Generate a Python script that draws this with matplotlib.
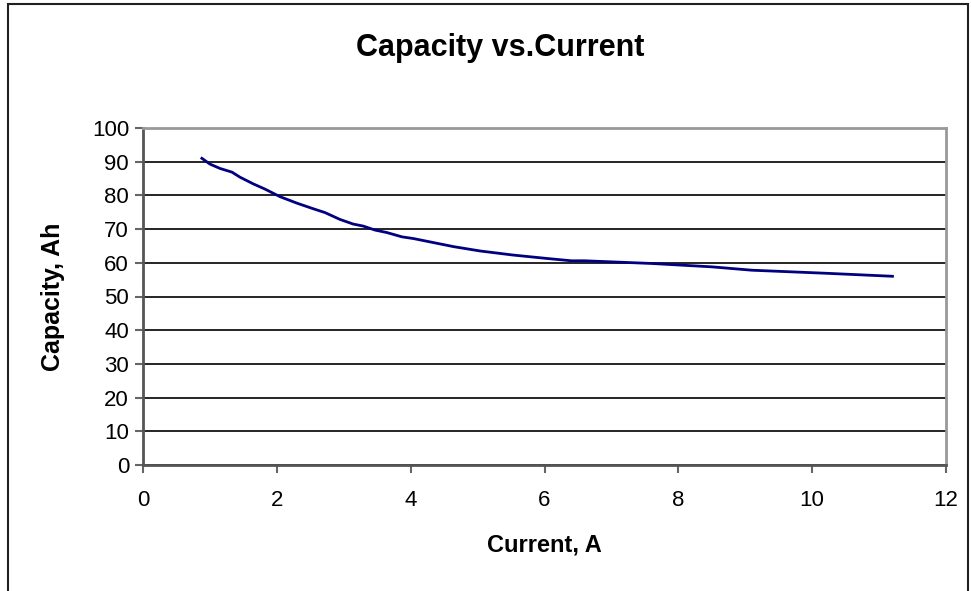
import matplotlib.pyplot as plt
from matplotlib.patches import Rectangle

plt.rcParams['font.family'] = ['Liberation Sans', 'DejaVu Sans']

# current (A) and capacity (Ah)
current = [0.88, 1.0, 1.15, 1.33, 1.45, 1.65, 1.82, 2.05, 2.3, 2.55, 2.72, 2.94,
           3.14, 3.29, 3.47, 3.64, 3.87, 4.04, 4.29, 4.64, 5.04, 5.53, 6.03,
           6.4, 6.6, 7.6, 8.5, 9.1, 10.2, 11.2]
capacity = [91.0, 89.3, 88.0, 86.9, 85.4, 83.4, 81.9, 79.6, 77.7, 76.0, 74.9, 72.9,
            71.5, 70.9, 69.7, 69.0, 67.7, 67.2, 66.2, 64.8, 63.5, 62.3, 61.3,
            60.6, 60.6, 59.8, 58.8, 57.8, 56.9, 56.0]
xticks = [0, 2, 4, 6, 8, 10, 12]
yticks = list(range(0, 101, 10))

fig = plt.figure(figsize=(9.71, 5.91), dpi=100)
ax = fig.add_axes([143/971, 126/591, 803/971, 337/591])

# outer chart frame (bottom edge falls outside the picture)
fig.patches.append(Rectangle((8/971, -0.05), 960/971, 1.05 - 4/591,
                             transform=fig.transFigure, fill=False,
                             edgecolor='#202020', linewidth=1.5))

ax.plot(current, capacity, color='#000080', linewidth=2)

ax.set_xlim(0, 12)
ax.set_ylim(0, 100)
ax.set_xticks(xticks)
ax.set_yticks(yticks)
ax.yaxis.grid(True, color='black', linewidth=1.2)
ax.set_axisbelow(True)

for s in ['left', 'bottom']:
    ax.spines[s].set_color('#555555')
    ax.spines[s].set_linewidth(2)
for s in ['top', 'right']:
    ax.spines[s].set_color('#999999')
    ax.spines[s].set_linewidth(2)

ax.tick_params(axis='both', direction='out', length=6, width=1.5,
               color='#666666', labelsize=16)
ax.tick_params(axis='x', pad=12)
ax.tick_params(axis='y', pad=4)

fig.text(500/971, 1 - 48/591, 'Capacity vs.Current', fontsize=22,
         fontweight='bold', ha='center', va='center')
ax.set_xlabel('Current, A', fontsize=17, fontweight='bold', va='top')
ax.xaxis.set_label_coords(0.5, -0.204)
ax.set_ylabel('Capacity, Ah', fontsize=18, fontweight='bold')
ax.yaxis.set_label_coords(-0.097, 0.5)

fig.savefig('out.png', dpi=100)
